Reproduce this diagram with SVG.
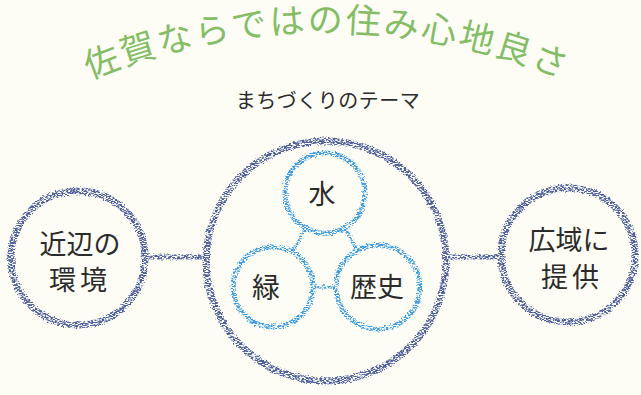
<svg xmlns="http://www.w3.org/2000/svg" width="641" height="395" viewBox="0 0 641 395">
<style>
.t{font-family:"Noto Sans CJK JP","Noto Sans",sans-serif;fill:#2b2b2b;text-anchor:middle}
.title{font-family:"Noto Sans CJK JP","Noto Sans",sans-serif;fill:#84bd66;font-size:35px;letter-spacing:2.5px}
.dk{fill:none;stroke:#4e5f9c;stroke-width:7}
.dkl{fill:none;stroke:#4e5f9c;stroke-width:5}
.bl{fill:none;stroke:#3c9be2;stroke-width:5}
.bll{fill:none;stroke:#3c9be2;stroke-width:3.5}
</style>
<defs>
<filter id="crayon" x="-10%" y="-10%" width="120%" height="120%">
<feTurbulence type="fractalNoise" baseFrequency="0.9" numOctaves="2" seed="3" result="n"/>
<feDisplacementMap in="SourceGraphic" in2="n" scale="4" xChannelSelector="R" yChannelSelector="G" result="d"/>
<feTurbulence type="fractalNoise" baseFrequency="0.45 1.1" numOctaves="1" seed="7" result="n2"/>
<feColorMatrix in="n2" type="matrix" values="0 0 0 0 0  0 0 0 0 0  0 0 0 0 0  7 0 0 0 -2.9" result="m"/>
<feComposite in="d" in2="m" operator="in"/>
</filter>
<path id="arc" d="M -28.6 144.6 A 620 620 0 0 1 682.6 144.6"/>
</defs>
<rect width="641" height="395" fill="#fdfdf6"/>
<g id="title">
<text class="title"><textPath href="#arc" startOffset="50%" text-anchor="middle">佐賀ならではの住み心地良さ</textPath></text>
</g>
<g id="subtitle">
<text class="t" x="328" y="108" font-size="20" letter-spacing="0.5">まちづくりのテーマ</text>
</g>
<g id="connectors" filter="url(#crayon)">
<line class="dkl" x1="144" y1="257" x2="210" y2="257"/>
<line class="dkl" x1="442" y1="257" x2="504" y2="257"/>
<line class="bll" x1="305.6" y1="228" x2="292.4" y2="252"/>
<line class="bll" x1="344.6" y1="227.8" x2="357.4" y2="250.4"/>
<line class="bll" x1="312" y1="287" x2="337" y2="287"/>
</g>
<g id="theme" filter="url(#crayon)">
<circle class="dk" cx="326" cy="261" r="120" stroke-width="8"/>
</g>
<g id="kinpen">
<circle class="dk" cx="78" cy="258" r="67" filter="url(#crayon)"/>
<text class="t" x="80" y="254" font-size="27">近辺の</text>
<text class="t" x="80" y="290" font-size="27" letter-spacing="4">環境</text>
</g>
<g id="koiki">
<circle class="dk" cx="568" cy="255" r="67" filter="url(#crayon)"/>
<text class="t" x="569" y="250" font-size="27">広域に</text>
<text class="t" x="572" y="287" font-size="27" letter-spacing="4">提供</text>
</g>
<g id="mizu">
<circle class="bl" cx="325" cy="193" r="40" filter="url(#crayon)"/>
<text class="t" x="322" y="204" font-size="27">水</text>
</g>
<g id="midori">
<circle class="bl" cx="273" cy="287" r="40" filter="url(#crayon)"/>
<text class="t" x="266" y="298" font-size="28">緑</text>
</g>
<g id="rekishi">
<circle class="bl" cx="378" cy="287" r="42" filter="url(#crayon)"/>
<text class="t" x="377" y="297" font-size="27">歴史</text>
</g>
</svg>
